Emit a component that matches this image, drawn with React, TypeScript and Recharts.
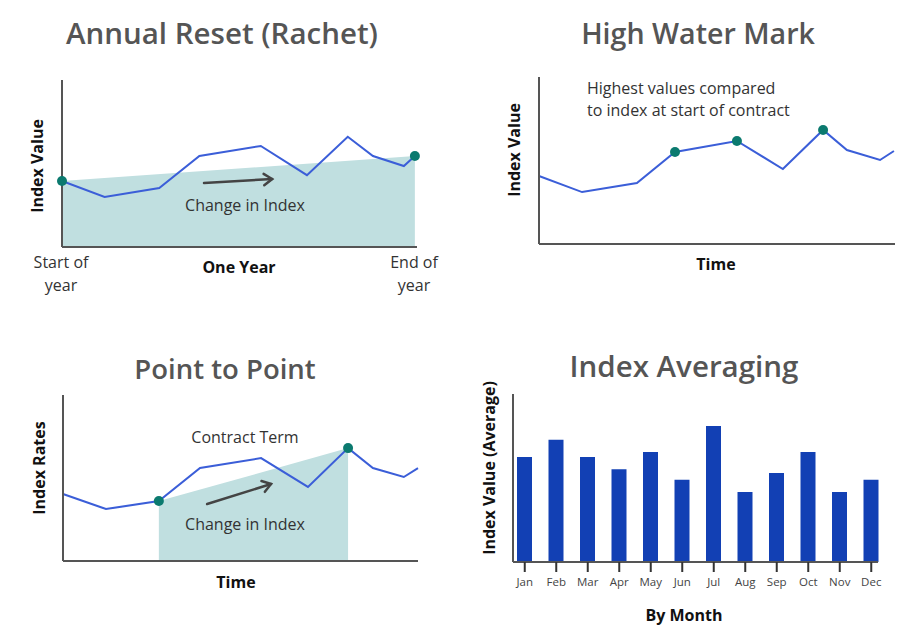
import React from 'react';
import {
  ComposedChart,
  BarChart,
  Line,
  Area,
  Bar,
  XAxis,
  YAxis,
  ReferenceLine,
} from 'recharts';

// Annual Reset (Rachet)
const resetTime = [0, 12, 27.4, 38.7, 56, 69, 80.5, 87.6, 96.3, 99.4];
const resetIndex = [39.5, 30, 35.3, 54.5, 60.5, 43, 66, 54.5, 48.5, 54.5];
const resetMarks = [0, 9];

// High Water Mark
const hwmTime = [0, 12.1, 27.5, 38.2, 55.6, 68.5, 79.8, 86.5, 95.8, 99.7];
const hwmIndex = [40.7, 31.1, 36.5, 55.1, 61.7, 44.9, 68.3, 56.3, 50.3, 55.7];
const hwmMarks = [3, 4, 6];

// Point to Point
const p2pTime = [0, 12.1, 27, 38.6, 55.8, 69, 80.3, 87.3, 96, 100];
const p2pIndex = [40.4, 31.3, 36.1, 56, 62, 44.6, 68, 56, 50.6, 56];
const p2pMarks = [2, 6];

// Index Averaging
const months = ['Jan', 'Feb', 'Mar', 'Apr', 'May', 'Jun', 'Jul', 'Aug', 'Sep', 'Oct', 'Nov', 'Dec'];
const monthAverages = [62.5, 72.8, 62.5, 55.2, 65.5, 49, 81, 41.7, 53, 65.5, 41.7, 49];

const FONT = "'Open Sans', sans-serif";
const LINE = '#3b5ed8';
const DOT = '#0b7a6f';
const FILL = '#c0dfe0';
const AXIS = '#555';

const buildRows = (time: number[], values: number[], fillAt: number[] | null) =>
  time.map((t, i) => ({
    t,
    index: values[i],
    fill: fillAt && fillAt.includes(i) ? values[i] : null,
  }));

const makeDot = (marks: number[]) => (p: any) =>
  marks.includes(p.index) ? (
    <circle key={`d${p.index}`} cx={p.cx} cy={p.cy} r={5} fill={DOT} />
  ) : (
    <g key={`d${p.index}`} />
  );

const Arrow = (p: any) => {
  const { x1, y1, x2, y2 } = p;
  const ang = Math.atan2(y2 - y1, x2 - x1);
  const h = 10;
  const ax = x2 - h * Math.cos(ang - 0.6);
  const ay = y2 - h * Math.sin(ang - 0.6);
  const bx = x2 - h * Math.cos(ang + 0.6);
  const by = y2 - h * Math.sin(ang + 0.6);
  return (
    <g stroke="#444" strokeWidth={2.5} fill="none" strokeLinecap="round">
      <line x1={x1} y1={y1} x2={x2} y2={y2} />
      <polyline points={`${ax},${ay} ${x2},${y2} ${bx},${by}`} />
    </g>
  );
};

const Txt = ({
  x,
  y,
  children,
  size = 16,
  weight = 400,
  color = '#333',
  rotate = false,
  left = false,
}: any) => (
  <div
    style={{
      position: 'absolute',
      left: x,
      top: y,
      transform: `translate(${left ? '0' : '-50%'},-50%)${rotate ? ' rotate(-90deg)' : ''}`,
      whiteSpace: 'nowrap',
      fontSize: size,
      fontWeight: weight,
      color,
      fontFamily: FONT,
      lineHeight: 1,
    }}
  >
    {children}
  </div>
);

const Title = ({ size = 29.5, ...rest }: any) => (
  <Txt size={size} weight={600} color="#555" {...rest} />
);

const Bold = (props: any) => <Txt size={16} weight={700} color="#111" {...props} />;

const axisLine = { stroke: AXIS, strokeWidth: 2 };

const IndexLineChart = ({ rows, marks, margin, width, height, arrow, showFill }: any) => (
  <ComposedChart width={width} height={height} data={rows} margin={margin}>
    <XAxis
      type="number"
      dataKey="t"
      domain={[0, 100]}
      height={1}
      tick={false}
      tickLine={false}
      axisLine={axisLine}
    />
    <YAxis domain={[0, 100]} width={1} tick={false} tickLine={false} axisLine={axisLine} />
    {showFill && (
      <Area
        type="linear"
        dataKey="fill"
        connectNulls
        stroke="none"
        fill={FILL}
        fillOpacity={1}
        isAnimationActive={false}
      />
    )}
    <Line
      type="linear"
      dataKey="index"
      stroke={LINE}
      strokeWidth={2}
      dot={makeDot(marks)}
      activeDot={false}
      isAnimationActive={false}
    />
    {arrow && <ReferenceLine segment={arrow} shape={Arrow} />}
  </ComposedChart>
);

const averageRows = months.map((m, i) => ({ month: m, avg: monthAverages[i] }));

export default function App() {
  return (
    <div
      style={{
        position: 'absolute',
        left: 0,
        top: 0,
        width: 908,
        height: 633,
        background: '#fff',
        fontFamily: FONT,
        overflow: 'hidden',
      }}
    >
      {/* Annual Reset */}
      <div style={{ position: 'absolute', left: 0, top: 0 }}>
        <IndexLineChart
          rows={buildRows(resetTime, resetIndex, resetMarks)}
          marks={resetMarks}
          width={454}
          height={310}
          margin={{ top: 80, right: 37, bottom: 62, left: 61 }}
          arrow={[{ x: 40, y: 38.3 }, { x: 59.2, y: 40.7 }]}
          showFill
        />
      </div>
      <Title x={222} y={33}>Annual Reset (Rachet)</Title>
      <Bold x={37} y={166} rotate>Index Value</Bold>
      <Bold x={239} y={267}>One Year</Bold>
      <Txt x={61} y={262}>Start of</Txt>
      <Txt x={61} y={285}>year</Txt>
      <Txt x={414} y={262}>End of</Txt>
      <Txt x={414} y={285}>year</Txt>
      <Txt x={245} y={205}>Change in Index</Txt>

      {/* High Water Mark */}
      <div style={{ position: 'absolute', left: 454, top: 0 }}>
        <IndexLineChart
          rows={buildRows(hwmTime, hwmIndex, null)}
          marks={hwmMarks}
          width={454}
          height={310}
          margin={{ top: 77, right: 13, bottom: 65, left: 84 }}
        />
      </div>
      <Title x={698} y={33} size={28.6}>High Water Mark</Title>
      <Txt x={587} y={88} left>Highest values compared</Txt>
      <Txt x={587} y={110} left>to index at start of contract</Txt>
      <Bold x={716} y={264}>Time</Bold>
      <Bold x={514} y={150} rotate>Index Value</Bold>

      {/* Point to Point */}
      <div style={{ position: 'absolute', left: 0, top: 340 }}>
        <IndexLineChart
          rows={buildRows(p2pTime, p2pIndex, p2pMarks)}
          marks={p2pMarks}
          width={454}
          height={293}
          margin={{ top: 55, right: 36, bottom: 71, left: 62 }}
          arrow={[{ x: 40.6, y: 34.3 }, { x: 58.6, y: 46.4 }]}
          showFill
        />
      </div>
      <Title x={225} y={369} size={27.5}>Point to Point</Title>
      <Txt x={245} y={437}>Contract Term</Txt>
      <Txt x={245} y={524}>Change in Index</Txt>
      <Bold x={236} y={582}>Time</Bold>
      <Bold x={39} y={468} rotate>Index Rates</Bold>

      {/* Index Averaging */}
      <div style={{ position: 'absolute', left: 454, top: 340 }}>
        <BarChart
          width={454}
          height={293}
          data={averageRows}
          margin={{ top: 54, right: 30, bottom: 41, left: 58 }}
        >
          <XAxis
            dataKey="month"
            height={30}
            padding={{ left: -4, right: -9 }}
            axisLine={axisLine}
            tickLine={{ stroke: '#333', strokeWidth: 2 }}
            tickSize={10}
            tickMargin={6}
            interval={0}
            tick={{ fontSize: 11.5, fill: '#444', fontFamily: FONT }}
          />
          <YAxis domain={[0, 100]} width={1} tick={false} tickLine={false} axisLine={axisLine} />
          <Bar dataKey="avg" fill="#1240b4" barSize={15} isAnimationActive={false} />
        </BarChart>
      </div>
      <Title x={684} y={366}>Index Averaging</Title>
      <Bold x={489} y={468} rotate>Index Value (Average)</Bold>
      <Bold x={684} y={615}>By Month</Bold>
    </div>
  );
}
